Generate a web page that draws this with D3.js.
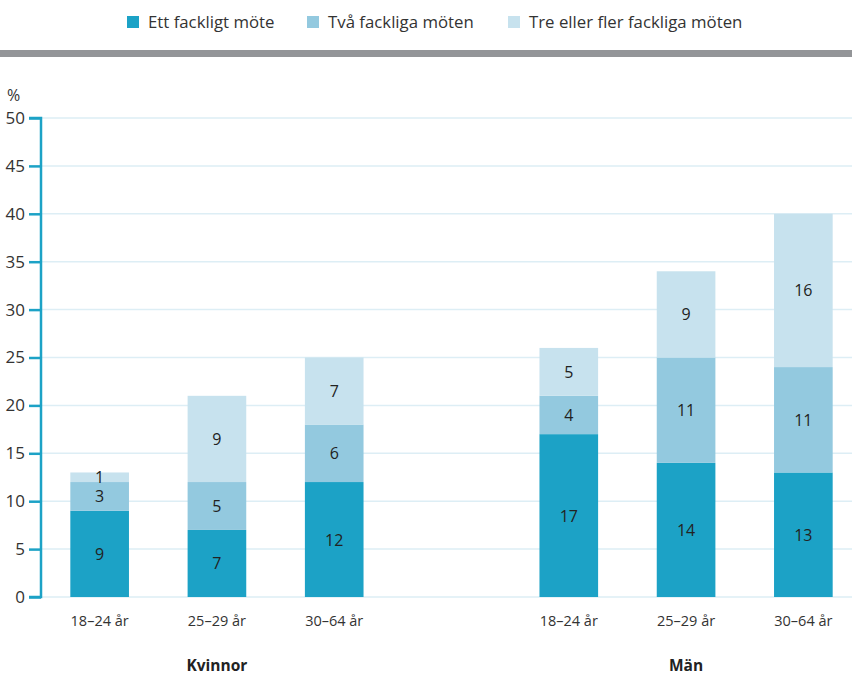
<!DOCTYPE html>
<html><head><meta charset="utf-8">
<script src="https://cdn.jsdelivr.net/npm/d3@7"></script>
<style>body{margin:0;background:#fff}svg{display:block;font-family:"Open Sans","Noto Sans",sans-serif}</style>
</head><body><svg id="c" width="852" height="675"></svg>
<script>
const groups = ["Kvinnor", "Män"];
const ageLabels = ["18–24 år", "25–29 år", "30–64 år"];
const seriesNames = ["Ett fackligt möte", "Två fackliga möten", "Tre eller fler fackliga möten"];
const colors = ["#1ca2c6", "#93c9df", "#c7e2ee"];
const ettMote = [9, 7, 12, 17, 14, 13];
const tvaMoten = [3, 5, 6, 4, 11, 11];
const treMoten = [1, 9, 7, 5, 9, 16];
const yTicks = [0, 5, 10, 15, 20, 25, 30, 35, 40, 45, 50];

const svg = d3.select("#c");
const W = 852, H = 675;
const slots = ["K0","K1","K2","gap","M0","M1","M2"];
const x = d3.scaleBand().domain(slots).range([41, 862]).paddingInner(0.5).paddingOuter(0.25);
const y = d3.scaleLinear().domain([0, 50]).range([597, 118]);

const rows = [];
groups.forEach((g, gi) => ageLabels.forEach((a, ai) => {
  const i = gi * 3 + ai;
  rows.push({slot: (gi === 0 ? "K" : "M") + ai, age: a, group: g, vals: [ettMote[i], tvaMoten[i], treMoten[i]]});
}));

// legend
const legX = [127, 307, 508];
seriesNames.forEach((n, i) => {
  svg.append("rect").attr("x", legX[i]).attr("y", 16).attr("width", 12).attr("height", 12).attr("fill", colors[i]);
  svg.append("text").attr("x", legX[i] + 21).attr("y", 28).attr("font-size", 16.8).attr("fill", "#333").text(n);
});
svg.append("rect").attr("x", 0).attr("y", 50).attr("width", W).attr("height", 7).attr("fill", "#939598");

svg.append("g").selectAll("line").data(yTicks).join("line")
  .attr("x1", 41).attr("x2", W).attr("y1", d => y(d)).attr("y2", d => y(d))
  .attr("stroke", "#ddeef5").attr("stroke-width", 1.5);

const g = svg.append("g");
rows.forEach(r => {
  let cum = 0;
  r.vals.forEach((v, si) => {
    const y0 = cum, y1 = cum + v; cum = y1;
    g.append("rect").attr("x", x(r.slot)).attr("width", x.bandwidth())
      .attr("y", y(y1)).attr("height", y(y0) - y(y1)).attr("fill", colors[si]);
    const cy = (y(y0) + y(y1)) / 2;
    g.append("text").attr("x", x(r.slot) + x.bandwidth() / 2).attr("y", cy + 6)
      .attr("text-anchor", "middle").attr("font-size", 16).attr("fill", "#222").text(v);
  });
  svg.append("text").attr("x", x(r.slot) + x.bandwidth() / 2).attr("y", 626)
    .attr("text-anchor", "middle").attr("font-size", 14.5).attr("fill", "#333").text(r.age);
});

groups.forEach((gname, gi) => {
  const s = (gi === 0 ? "K" : "M") + 1;
  svg.append("text").attr("x", x(s) + x.bandwidth() / 2).attr("y", 671)
    .attr("text-anchor", "middle").attr("font-size", 15.5).attr("font-weight", "bold").attr("fill", "#222").text(gname);
});

const ax = svg.append("g").attr("transform", "translate(41,0)")
  .call(d3.axisLeft(y).tickValues(yTicks).tickSize(12).tickPadding(4));
ax.select(".domain").attr("stroke", "#1ca2c6").attr("stroke-width", 2.5).attr("d", `M-12,${y(50)}H0V${y(0)}H-12`);
ax.selectAll(".tick line").attr("stroke", "#1ca2c6").attr("stroke-width", 2.5);
ax.selectAll(".tick text").attr("font-size", 17).attr("fill", "#333").attr("font-family", "'Open Sans','Noto Sans',sans-serif");
svg.append("text").attr("x", 7).attr("y", 101).attr("font-size", 16).attr("fill", "#333").text("%");
</script></body></html>
